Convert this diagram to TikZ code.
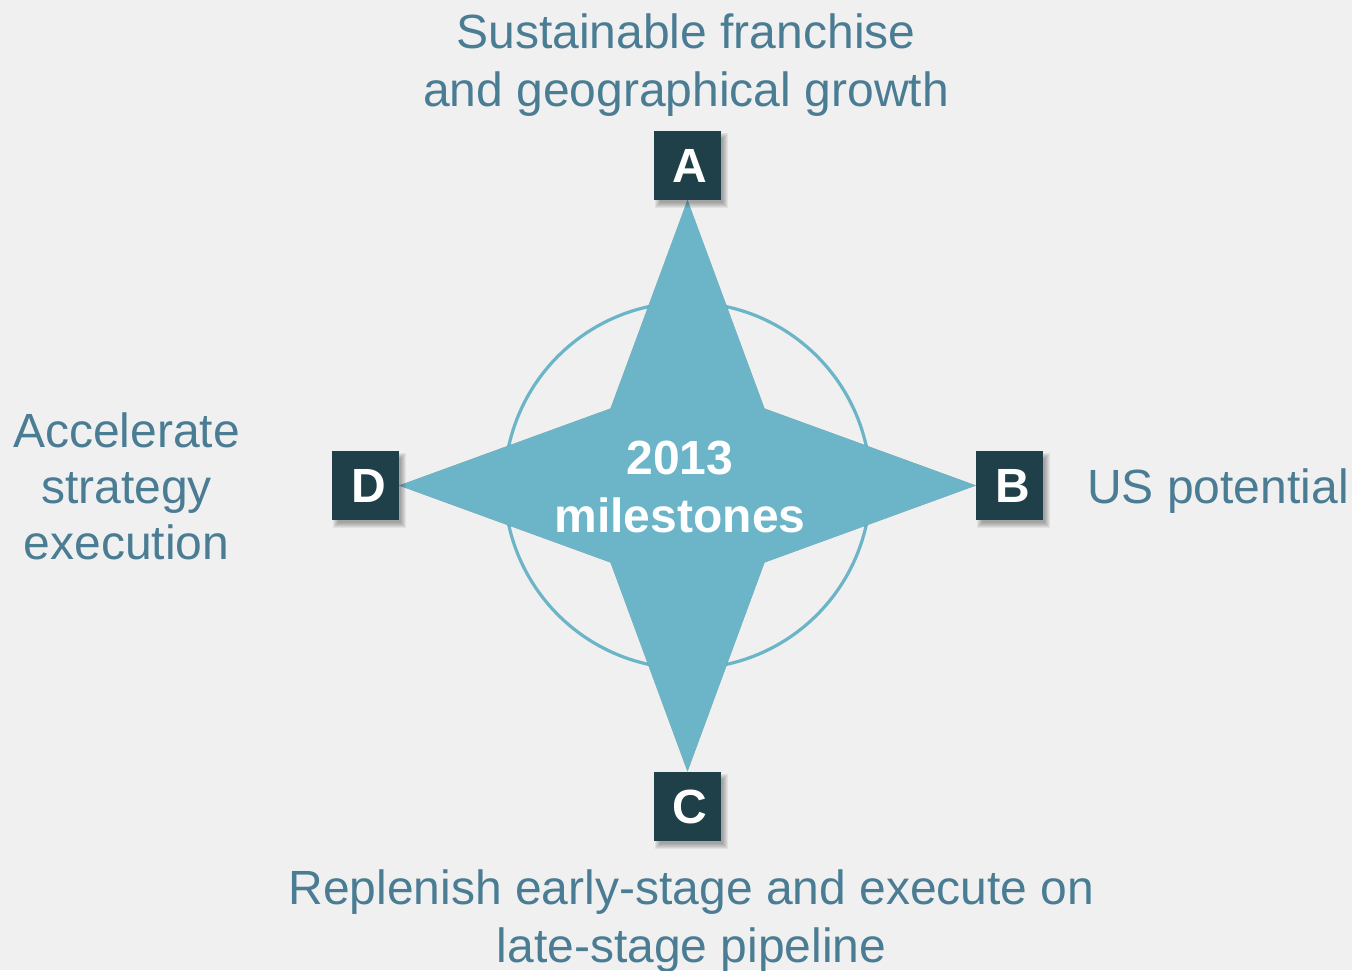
\documentclass[tikz,border=0pt]{standalone}
\usepackage{fontspec}
\setmainfont{Liberation Sans}
\definecolor{bgc}{HTML}{F0F0F0}
\definecolor{starc}{HTML}{6CB4C7}
\definecolor{boxc}{HTML}{1F4049}
\definecolor{txtc}{HTML}{4A7C93}
\begin{document}
\begin{tikzpicture}[x=1pt,y=-1pt,
  letterbox/.style={fill=boxc, text=white, font=\fontsize{48}{57.6}\selectfont\bfseries,
    minimum width=67pt, minimum height=69pt, inner sep=0pt, text height=34.4pt, text depth=0pt},
  lbl/.style={text=txtc, font=\fontsize{48}{57.6}\selectfont, align=center, inner sep=0pt, anchor=base},
  centerlbl/.style={text=white, font=\fontsize{48}{57.6}\selectfont\bfseries, align=center, inner sep=0pt, anchor=base},
  shadowfill/.style={fill=black, opacity=0.06},
  starshape/.style={fill=starc},
  ring/.style={draw=starc, line width=3.2pt}
  ]
\fill[bgc] (0,0) rectangle (1352,970);
\useasboundingbox (0,0) rectangle (1352,970);

% centre and tip points of the star
\coordinate (O) at (687.5,485.5);
\coordinate (tA) at (687.5,200);
\coordinate (tB) at (976,485.5);
\coordinate (tC) at (687.5,771.5);
\coordinate (tD) at (399,485.5);
\coordinate (iAB) at (764.5,408.5);
\coordinate (iBC) at (764.5,562.5);
\coordinate (iCD) at (610.5,562.5);
\coordinate (iDA) at (610.5,408.5);

% ring
\draw[ring] (O) circle[radius=183];

% star shadow
\foreach \s in {1,...,6} {
  \fill[shadowfill, shift={(\s,\s)}] (tA) -- (iAB) -- (tB) -- (iBC) -- (tC) -- (iCD) -- (tD) -- (iDA) -- cycle;
}
% star
\path[starshape] (tA) -- (iAB) -- (tB) -- (iBC) -- (tC) -- (iCD) -- (tD) -- (iDA) -- cycle;

% box shadows
\foreach \px/\py in {687.5/165.5, 1009.5/485.5, 687.5/806, 365.5/485.5} {
  \foreach \r in {0,...,5} {
    \fill[shadowfill] (\px+4-36.5+\r, \py+5-37.5+\r) rectangle (\px+4+36.5-\r, \py+5+37.5-\r);
  }
}

% letter boxes
\node[letterbox] (A) at (687.5,165.5) {\hspace*{4pt}A};
\node[letterbox] (B) at (1009.5,485.5) {\hspace*{6pt}B};
\node[letterbox] (C) at (687.5,806) {\hspace*{4pt}C};
\node[letterbox] (D) at (365.5,485.5) {\hspace*{6pt}D};

\node[centerlbl] (M) at (680,532) {2013\\milestones};

% labels
\node[lbl] (LA) at (686,106) {Sustainable franchise\\and geographical growth};
\node[lbl] (LB) at (1218,503) {US potential};
\node[lbl] (LC) at (691.5,962) {Replenish early-stage and execute on\\late-stage pipeline};
\node[lbl, font=\fontsize{48}{56}\selectfont] (LD) at (126.5,559) {Accelerate\\strategy\\execution};
\end{tikzpicture}
\end{document}
